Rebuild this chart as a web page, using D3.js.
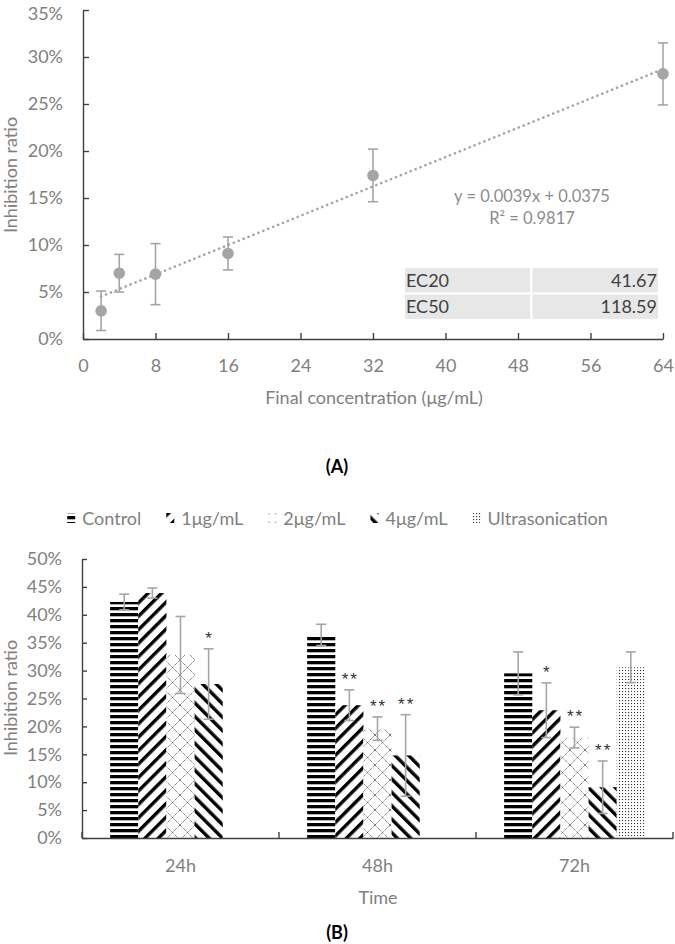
<!DOCTYPE html>
<html>
<head>
<meta charset="utf-8">
<script src="https://cdn.jsdelivr.net/npm/d3@7"></script>
<style>
  html, body { margin: 0; padding: 0; background: #fff; }
  svg { display: block; font-family: Lato, "Open Sans", sans-serif; }
</style>
</head>
<body>
<svg id="chart" width="675" height="944"></svg>
<script>
// ---------- Panel A data ----------
const concentrations = [2, 4, 8, 16, 32, 64];
const inhibition = [0.030, 0.070, 0.069, 0.091, 0.174, 0.282];
const inhibitionErr = [0.021, 0.020, 0.0325, 0.0175, 0.028, 0.033];
const trendSlope = 0.0039;
const trendIntercept = 0.0375;
const equationText = "y = 0.0039x + 0.0375";
const r2Text = "R\u00B2 = 0.9817";
const ecLabels = ["EC20", "EC50"];
const ecValues = ["41.67", "118.59"];
const xTicksA = [0, 8, 16, 24, 32, 40, 48, 56, 64];
const yTicksA = [0, 0.05, 0.10, 0.15, 0.20, 0.25, 0.30, 0.35];

// ---------- Panel B data ----------
const times = ["24h", "48h", "72h"];
const groups = ["Control", "1\u03BCg/mL", "2\u03BCg/mL", "4\u03BCg/mL", "Ultrasonication"];
const controlVals = [0.423, 0.364, 0.295];
const controlErr = [0.014, 0.019, 0.0385];
const dose1Vals = [0.439, 0.238, 0.229];
const dose1Err = [0.009, 0.0275, 0.049];
const dose2Vals = [0.328, 0.196, 0.180];
const dose2Err = [0.069, 0.021, 0.0185];
const dose4Vals = [0.276, 0.148, 0.091];
const dose4Err = [0.063, 0.073, 0.047];
const ultraVals = [null, null, 0.306];
const ultraErr = [null, null, 0.0275];
const controlSig = ["", "", ""];
const dose1Sig = ["", "**", "*"];
const dose2Sig = ["", "**", "**"];
const dose4Sig = ["*", "**", "**"];
const ultraSig = ["", "", ""];
const yTicksB = [0, 0.05, 0.10, 0.15, 0.20, 0.25, 0.30, 0.35, 0.40, 0.45, 0.50];

const seriesVals = [controlVals, dose1Vals, dose2Vals, dose4Vals, ultraVals];
const seriesErr = [controlErr, dose1Err, dose2Err, dose4Err, ultraErr];
const seriesSig = [controlSig, dose1Sig, dose2Sig, dose4Sig, ultraSig];

// ---------- styles ----------
const AXIS = "#404040";
const LABEL = "#808080";
const MARK = "#a5a5a5";
const FS = "18px";
const pct = d3.format(".0%");

const svg = d3.select("#chart");
const defs = svg.append("defs");

// patterns
const pCtrl = defs.append("pattern").attr("id", "pCtrl").attr("patternUnits", "userSpaceOnUse")
  .attr("width", 6).attr("height", 6);
pCtrl.append("rect").attr("width", 6).attr("height", 6).attr("fill", "#fff");
pCtrl.append("rect").attr("y", 1).attr("width", 6).attr("height", 3.3).attr("fill", "#000");

function diag(id, angle) {
  const p = defs.append("pattern").attr("id", id).attr("patternUnits", "userSpaceOnUse")
    .attr("width", 9.5).attr("height", 9.5).attr("patternTransform", `rotate(${angle})`);
  p.append("rect").attr("width", 9.5).attr("height", 9.5).attr("fill", "#fff");
  p.append("rect").attr("width", 3.4).attr("height", 9.5).attr("fill", "#000");
}
diag("pD1", 45);
diag("pD4", -45);

const pD2 = defs.append("pattern").attr("id", "pD2").attr("patternUnits", "userSpaceOnUse")
  .attr("width", 15).attr("height", 15);
pD2.append("rect").attr("width", 15).attr("height", 15).attr("fill", "#fff");
pD2.append("path").attr("d", "M0,0L15,15M15,0L0,15").attr("stroke", "#555")
  .attr("stroke-width", 0.9).attr("stroke-dasharray", "1.2 0.8").attr("fill", "none");

const pU = defs.append("pattern").attr("id", "pU").attr("patternUnits", "userSpaceOnUse")
  .attr("width", 3).attr("height", 3);
pU.append("rect").attr("width", 3).attr("height", 3).attr("fill", "#fff");
pU.append("rect").attr("x", 1).attr("y", 1).attr("width", 1.1).attr("height", 1.1).attr("fill", "#333");

const fills = ["url(#pCtrl)", "url(#pD1)", "url(#pD2)", "url(#pD4)", "url(#pU)"];

// =============== Panel A ===============
const xA = d3.scaleLinear().domain([0, 64]).range([83, 663]);
const yA = d3.scaleLinear().domain([0, 0.35]).range([339, 10]);

const gA = svg.append("g");

const xAxisA = gA.append("g").attr("transform", `translate(0,${yA(0)})`)
  .call(d3.axisBottom(xA).tickValues(xTicksA).tickSizeInner(-6).tickSizeOuter(0).tickPadding(20));
const yAxisA = gA.append("g").attr("transform", `translate(${xA(0)},0)`)
  .call(d3.axisLeft(yA).tickValues(yTicksA).tickFormat(pct).tickSizeInner(-6).tickSizeOuter(0).tickPadding(20));
[xAxisA, yAxisA].forEach(a => {
  a.selectAll("path.domain, line").attr("stroke", AXIS).attr("stroke-width", 1.4);
  a.selectAll("text").attr("fill", LABEL).style("font-size", FS).style("font-family", "Lato");
});
yAxisA.selectAll(".tick text").filter(d => d === 0.35).attr("dy", "0.5em");

// trend line
gA.append("line")
  .attr("x1", xA(concentrations[0])).attr("y1", yA(trendSlope * concentrations[0] + trendIntercept))
  .attr("x2", xA(concentrations[concentrations.length - 1]))
  .attr("y2", yA(trendSlope * concentrations[concentrations.length - 1] + trendIntercept))
  .attr("stroke", MARK).attr("stroke-width", 2.6).attr("stroke-dasharray", "0.1 5.2")
  .attr("stroke-linecap", "round");

// error bars
const ptsA = concentrations.map((c, i) => ({ c, v: inhibition[i], e: inhibitionErr[i] }));
const eb = gA.append("g").attr("stroke", MARK).attr("stroke-width", 1.6);
ptsA.forEach(d => {
  const x = xA(d.c), t = yA(d.v + d.e), b = yA(d.v - d.e);
  eb.append("line").attr("x1", x).attr("x2", x).attr("y1", t).attr("y2", b);
  eb.append("line").attr("x1", x - 5).attr("x2", x + 5).attr("y1", t).attr("y2", t);
  eb.append("line").attr("x1", x - 5).attr("x2", x + 5).attr("y1", b).attr("y2", b);
});
gA.selectAll("circle.pt").data(ptsA).join("circle").attr("class", "pt")
  .attr("cx", d => xA(d.c)).attr("cy", d => yA(d.v)).attr("r", 5.8).attr("fill", MARK);

// equation
gA.append("text").attr("x", 532).attr("y", 202).attr("text-anchor", "middle")
  .attr("fill", "#8c8c8c").style("font-size", "16.5px").text(equationText);
gA.append("text").attr("x", 532).attr("y", 224).attr("text-anchor", "middle")
  .attr("fill", "#8c8c8c").style("font-size", "16.5px").text(r2Text);

// EC table
const tbl = gA.append("g");
ecLabels.forEach((lab, i) => {
  const y0 = 268 + i * 26.5;
  tbl.append("rect").attr("x", 405).attr("y", y0).attr("width", 125).attr("height", 24.5).attr("fill", "#e7e7e7");
  tbl.append("rect").attr("x", 532.5).attr("y", y0).attr("width", 125.5).attr("height", 24.5).attr("fill", "#e7e7e7");
  tbl.append("text").attr("x", 406).attr("y", y0 + 18.5).attr("fill", "#404040").style("font-size", FS).text(lab);
  tbl.append("text").attr("x", 657).attr("y", y0 + 18.5).attr("text-anchor", "end").attr("fill", "#404040")
    .style("font-size", FS).text(ecValues[i]);
});

// axis titles
gA.append("text").attr("x", 374).attr("y", 403.5).attr("text-anchor", "middle").attr("fill", LABEL)
  .style("font-size", FS).text("Final concentration (\u03BCg/mL)");
gA.append("text").attr("transform", "translate(17,175) rotate(-90)").attr("text-anchor", "middle")
  .attr("fill", LABEL).style("font-size", FS).text("Inhibition ratio");

svg.append("text").attr("x", 337).attr("y", 473).attr("text-anchor", "middle").attr("fill", "#000")
  .style("font-size", "18px").style("font-weight", "bold").text("(A)");

// =============== Panel B ===============
const gB = svg.append("g");
const x0 = d3.scaleBand().domain(times).range([82, 673]).paddingInner(0).paddingOuter(0);
const x1 = d3.scaleBand().domain(groups).range([0, x0.bandwidth()]).paddingInner(0).paddingOuter(1);
const yB = d3.scaleLinear().domain([0, 0.5]).range([838, 559]);

// bars
times.forEach((t, ti) => {
  groups.forEach((g, gi) => {
    const v = seriesVals[gi][ti];
    if (v == null) return;
    gB.append("rect").attr("x", x0(t) + x1(g)).attr("width", x1.bandwidth())
      .attr("y", yB(v)).attr("height", yB(0) - yB(v)).attr("fill", fills[gi]);
  });
});

// error bars + significance
times.forEach((t, ti) => {
  groups.forEach((g, gi) => {
    const v = seriesVals[gi][ti], e = seriesErr[gi][ti];
    if (v == null) return;
    const cx = x0(t) + x1(g) + x1.bandwidth() / 2;
    const top = yB(v + e), bot = yB(v - e);
    const eg = gB.append("g").attr("stroke", MARK).attr("stroke-width", 1.6);
    eg.append("line").attr("x1", cx).attr("x2", cx).attr("y1", top).attr("y2", bot);
    eg.append("line").attr("x1", cx - 5).attr("x2", cx + 5).attr("y1", top).attr("y2", top);
    eg.append("line").attr("x1", cx - 5).attr("x2", cx + 5).attr("y1", bot).attr("y2", bot);
    const s = seriesSig[gi][ti];
    if (s) {
      gB.append("text").attr("x", cx + (s.length > 1 ? 1 : 0)).attr("y", top - 5).attr("text-anchor", "middle")
        .attr("fill", "#333").style("font-family", "'Liberation Sans', sans-serif").style("font-size", "17px")
        .style("letter-spacing", s.length > 1 ? "2px" : "0px")
        .text(s);
    }
  });
});

// axes
const yAxisB = gB.append("g").attr("transform", `translate(82,0)`)
  .call(d3.axisLeft(yB).tickValues(yTicksB).tickFormat(pct).tickSizeInner(-5).tickSizeOuter(0).tickPadding(20));
yAxisB.selectAll("path.domain, line").attr("stroke", AXIS).attr("stroke-width", 1.4);
yAxisB.selectAll("text").attr("fill", LABEL).style("font-size", FS).style("font-family", "Lato");

const xAxisB = gB.append("g").attr("transform", `translate(0,${yB(0)})`)
  .call(d3.axisBottom(x0).tickSize(0).tickPadding(21));
xAxisB.select("path.domain").attr("stroke", AXIS).attr("stroke-width", 1.4);
xAxisB.selectAll("text").attr("fill", LABEL).style("font-size", FS).style("font-family", "Lato");
const bounds = times.map(t => x0(t)).concat([x0(times[times.length - 1]) + x0.bandwidth()]);
gB.selectAll("line.ctick").data(bounds).join("line").attr("class", "ctick")
  .attr("x1", d => d).attr("x2", d => d).attr("y1", yB(0)).attr("y2", yB(0) - 6)
  .attr("stroke", AXIS).attr("stroke-width", 1.4);

gB.append("text").attr("x", 378).attr("y", 903.5).attr("text-anchor", "middle").attr("fill", LABEL)
  .style("font-size", FS).text("Time");
gB.append("text").attr("transform", "translate(17,698) rotate(-90)").attr("text-anchor", "middle")
  .attr("fill", LABEL).style("font-size", FS).text("Inhibition ratio");
svg.append("text").attr("x", 337).attr("y", 939).attr("text-anchor", "middle").attr("fill", "#000")
  .style("font-size", "18px").style("font-weight", "bold").text("(B)");

// legend
const leg = svg.append("g");
const items = [];
let cursor = 0;
groups.forEach((g, gi) => {
  const it = leg.append("g");
  it.append("g").attr("transform", "translate(-3.5,-15)")
    .append("rect").attr("x", 3.5).attr("y", 10).attr("width", 8).attr("height", 10).attr("fill", fills[gi]);
  const tx = it.append("text").attr("x", 15).attr("y", 6.5).attr("fill", LABEL).style("font-size", FS).text(g);
  const w = 15 + tx.node().getComputedTextLength();
  items.push({ it, x: cursor });
  cursor += w + 25;
});
const totalW = cursor - 25;
const startX = 337.5 - totalW / 2;
items.forEach(d => d.it.attr("transform", `translate(${startX + d.x},518)`));
</script>
</body>
</html>
